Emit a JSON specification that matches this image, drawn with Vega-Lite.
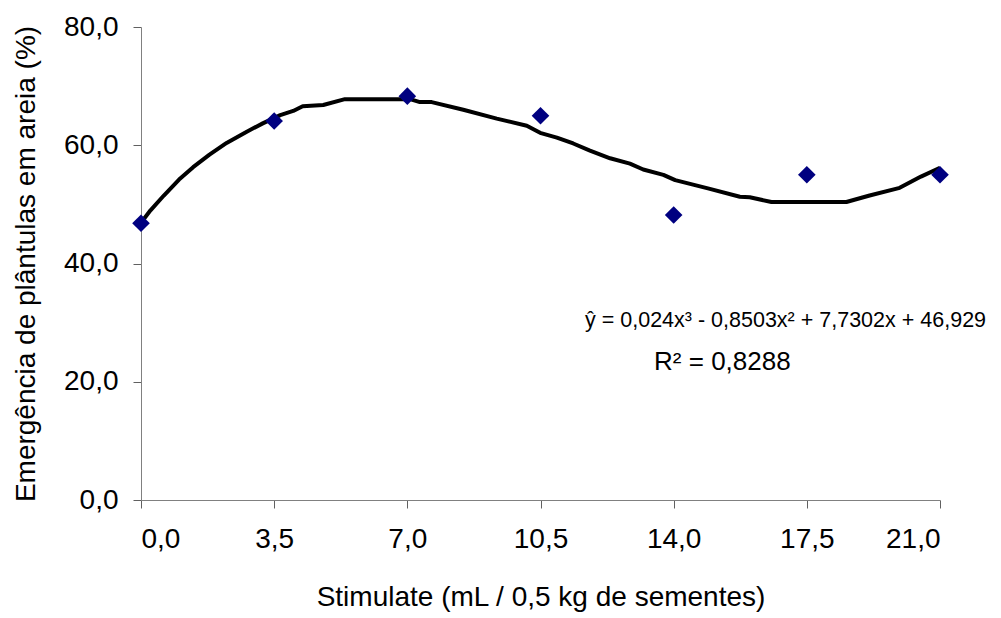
{
  "$schema": "https://vega.github.io/schema/vega-lite/v6.json",
  "width": 799,
  "height": 473,
  "autosize": {"type": "none"},
  "padding": {"left": 141, "top": 27, "right": 61, "bottom": 118},
  "background": "white",
  "config": {
    "view": {"stroke": null},
    "font": "Liberation Sans",
    "axis": {
      "labelFont": "Liberation Sans",
      "titleFont": "Liberation Sans",
      "labelFontSize": 28,
      "titleFontSize": 28,
      "titleFontWeight": "normal",
      "labelColor": "black",
      "titleColor": "black",
      "domainColor": "#808080",
      "tickColor": "#606060",
      "tickSize": 8,
      "grid": false
    }
  },
  "datasets": {
    "obs": [
      {"x": 0, "y": 46.8},
      {"x": 3.5, "y": 64.1},
      {"x": 7, "y": 68.3},
      {"x": 10.5, "y": 65.0},
      {"x": 14, "y": 48.2},
      {"x": 17.5, "y": 55.0},
      {"x": 21, "y": 55.0}
    ],
    "curve": [
      {"x": 0, "y": 46.9},
      {"x": 0.25, "y": 49.0},
      {"x": 0.6, "y": 51.5},
      {"x": 1.0, "y": 54.2},
      {"x": 1.37, "y": 56.3},
      {"x": 1.8, "y": 58.4},
      {"x": 2.25, "y": 60.4},
      {"x": 2.78, "y": 62.3},
      {"x": 3.2, "y": 63.7},
      {"x": 3.66, "y": 65.1},
      {"x": 4.0, "y": 65.8},
      {"x": 4.25, "y": 66.6},
      {"x": 4.79, "y": 66.8},
      {"x": 5.36, "y": 67.8},
      {"x": 6.0, "y": 67.8},
      {"x": 7.07, "y": 67.8},
      {"x": 7.33, "y": 67.3},
      {"x": 7.64, "y": 67.3},
      {"x": 8.47, "y": 66.0},
      {"x": 9.35, "y": 64.5},
      {"x": 10.14, "y": 63.3},
      {"x": 10.49, "y": 62.1},
      {"x": 10.93, "y": 61.3},
      {"x": 11.36, "y": 60.3},
      {"x": 11.8, "y": 59.1},
      {"x": 12.33, "y": 57.8},
      {"x": 12.85, "y": 56.9},
      {"x": 13.2, "y": 55.9},
      {"x": 13.73, "y": 55.0},
      {"x": 14.04, "y": 54.1},
      {"x": 14.9, "y": 52.7},
      {"x": 15.74, "y": 51.3},
      {"x": 16.0, "y": 51.2},
      {"x": 16.57, "y": 50.4},
      {"x": 18.54, "y": 50.4},
      {"x": 19.15, "y": 51.5},
      {"x": 19.94, "y": 52.8},
      {"x": 20.5, "y": 54.7},
      {"x": 21.0, "y": 56.2}
    ],
    "equation": [
      {"x": 16.94, "y": 29.26, "label": "ŷ = 0,024x³ - 0,8503x² + 7,7302x + 46,929"}
    ],
    "r2": [
      {"x": 15.28, "y": 21.99, "label": "R² = 0,8288"}
    ]
  },
  "layer": [
    {
      "data": {"name": "curve"},
      "mark": {"type": "line", "color": "black", "strokeWidth": 4, "strokeJoin": "round"},
      "encoding": {
        "x": {
          "field": "x", "type": "quantitative",
          "scale": {"domain": [0, 21], "nice": false, "zero": false},
          "axis": {
            "values": [0, 3.5, 7, 10.5, 14, 17.5, 21],
            "labelExpr": "replace(format(datum.value, '.1f'), '.', ',')",
            "labelPadding": 17,
            "title": "Stimulate (mL / 0,5 kg de sementes)",
            "titlePadding": 30
          }
        },
        "y": {
          "field": "y", "type": "quantitative",
          "scale": {"domain": [0, 80], "nice": false},
          "axis": {
            "values": [0, 20, 40, 60, 80],
            "labelExpr": "replace(format(datum.value, '.1f'), '.', ',')",
            "labelPadding": 15,
            "title": "Emergência de plântulas em areia (%)",
            "titlePadding": 23
          }
        }
      }
    },
    {
      "data": {"name": "obs"},
      "mark": {"type": "point", "shape": "diamond", "filled": true, "color": "#000080", "size": 310, "opacity": 1},
      "encoding": {
        "x": {"field": "x", "type": "quantitative"},
        "y": {"field": "y", "type": "quantitative"}
      }
    },
    {
      "data": {"name": "equation"},
      "mark": {"type": "text", "font": "Liberation Sans", "fontSize": 21.5, "align": "center", "baseline": "alphabetic", "color": "black"},
      "encoding": {
        "x": {"field": "x", "type": "quantitative"},
        "y": {"field": "y", "type": "quantitative"},
        "text": {"field": "label"}
      }
    },
    {
      "data": {"name": "r2"},
      "mark": {"type": "text", "font": "Liberation Sans", "fontSize": 26, "align": "center", "baseline": "alphabetic", "color": "black"},
      "encoding": {
        "x": {"field": "x", "type": "quantitative"},
        "y": {"field": "y", "type": "quantitative"},
        "text": {"field": "label"}
      }
    }
  ]
}
